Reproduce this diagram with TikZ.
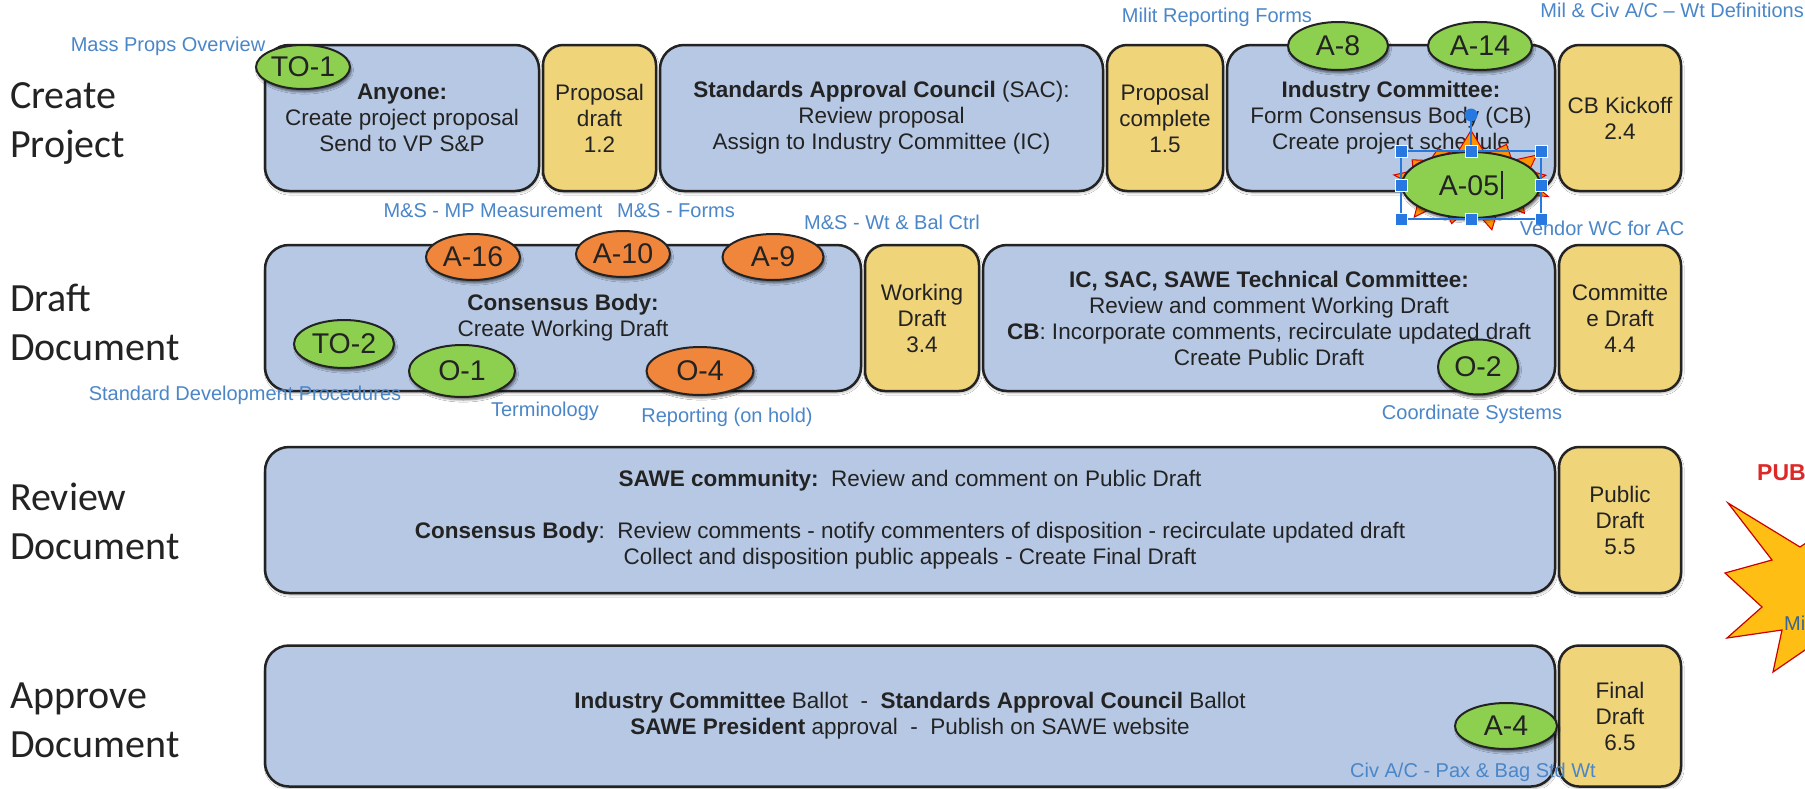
\documentclass[tikz,border=0pt]{standalone}
\usepackage{fontspec}
\setmainfont{Liberation Sans}
\newfontfamily\rowfont{Carlito}
\usepackage[dvipsnames,rgb]{xcolor}
\usepackage{tikz}
\usetikzlibrary{positioning,shapes.geometric,shapes.symbols,shadows.blur}

\definecolor{boxblue}{RGB}{182,200,228}
\definecolor{boxyellow}{RGB}{240,212,122}
\definecolor{taggreen}{RGB}{141,208,80}
\definecolor{tagorange}{RGB}{240,134,60}
\definecolor{notecol}{RGB}{74,134,200}
\definecolor{inkcol}{RGB}{35,35,35}
\definecolor{selblue}{RGB}{40,120,225}
\definecolor{burstyellow}{RGB}{255,190,20}
\definecolor{pubred}{RGB}{222,40,40}

\newcommand\caretbar{\kern2pt\rule[-4pt]{2pt}{28pt}}

\begin{document}
\begin{tikzpicture}[x=1pt,y=-1pt,
    phasebox/.style={draw=inkcol, line width=2.5pt, rounded corners=24pt,
        fill=boxblue, align=center, inner sep=0pt, outer sep=0pt,
        text=inkcol, font=\fontsize{22.5}{26}\selectfont, minimum height=146pt,
        blur shadow={shadow xshift=1pt, shadow yshift=-2pt, shadow opacity=30}},
    draftbox/.style={phasebox, fill=boxyellow, rounded corners=20pt, minimum width=122pt},
    tag/.style={ellipse, draw=inkcol, line width=2pt, inner sep=0pt, text=inkcol,
        font=\fontsize{28.5}{30}\selectfont,
        blur shadow={shadow xshift=1.5pt, shadow yshift=-3pt, shadow opacity=55}},
    greentag/.style={tag, fill=taggreen},
    orangetag/.style={tag, fill=tagorange},
    note/.style={text=notecol, inner sep=0pt, font=\fontsize{20}{22}\selectfont},
    rowlabel/.style={anchor=west, align=left, inner sep=0pt, text=inkcol,
        font=\rowfont\fontsize{40}{49}\selectfont},
    handle/.style={rectangle, fill=selblue, draw=white, line width=0.8pt,
        minimum size=12pt, inner sep=0pt},
    selframe/.style={draw=selblue, line width=1.2pt}]

    \fill[white] (0,0) rectangle (1805,788);
    \useasboundingbox (0,0) rectangle (1805,788);

    \node[rowlabel] (lcreate) at (10,123) {Create\\Project};
    \node[rowlabel] (ldraft) at (10,322) {Draft\\Document};
    \node[rowlabel] (lreview) at (10,521) {Review\\Document};
    \node[rowlabel] (lapprove) at (10,720) {Approve\\Document};

    \node[phasebox, minimum width=274pt] (anyone) at (402,118)
        {\textbf{Anyone:}\\Create project proposal\\Send to VP S\&P};
    \node[draftbox, right=4pt of anyone, minimum width=113pt] (propdraft) {Proposal\\draft\\1.2};
    \node[phasebox, right=4pt of propdraft, minimum width=443pt] (sac)
        {\textbf{Standards Approval Council} (SAC):\\Review proposal\\Assign to Industry Committee (IC)};
    \node[draftbox, right=4pt of sac, minimum width=116pt] (propdone) {Proposal\\complete\\1.5};
    \node[phasebox, right=4pt of propdone, minimum width=328pt] (indcomm)
        {\textbf{Industry Committee:}\\Form Consensus Body (CB)\\Create project schedule};
    \node[draftbox, right=4pt of indcomm] (kickoff) {CB Kickoff\\2.4};

    \node[phasebox, minimum width=596pt] (consbody) at (563,318)
        {\textbf{Consensus Body:}\\Create Working Draft};
    \node[draftbox, right=4pt of consbody, minimum width=114pt] (workdraft) {Working\\Draft\\3.4};
    \node[phasebox, right=4pt of workdraft, minimum width=572pt] (techcomm)
        {\textbf{IC, SAC, SAWE Technical Committee:}\\Review and comment Working Draft\\
         \textbf{CB}: Incorporate comments, recirculate updated draft\\Create Public Draft};
    \node[draftbox, right=4pt of techcomm] (commdraft) {Committe\\e Draft\\4.4};

    \node[phasebox, minimum width=1290pt] (review) at (910,520)
        {\textbf{SAWE community:}~~Review and comment on Public Draft\\[26pt]
         \textbf{Consensus Body}:~~Review comments - notify commenters of disposition - recirculate updated draft\\
         Collect and disposition public appeals - Create Final Draft};
    \node[draftbox, right=4pt of review] (pubdraft) {Public\\Draft\\5.5};

    \node[phasebox, minimum width=1290pt, minimum height=141pt] (approve) at (910,716)
        {\textbf{Industry Committee} Ballot~~-~~\textbf{Standards Approval Council} Ballot\\
         \textbf{SAWE President} approval~~-~~Publish on SAWE website};
    \node[draftbox, right=4pt of approve, minimum height=141pt] (finaldraft) {Final\\Draft\\6.5};

    \node[starburst, starburst points=13, starburst point height=26pt, random starburst=7,
        fill=orange!85!yellow, draw=red!85!black, line width=1pt,
        minimum width=176pt, minimum height=104pt] (a05burst) at (1471,180) {};

    \node[greentag, minimum width=94pt, minimum height=44pt] (to1) at (303,67) {TO-1};
    \node[greentag, minimum width=100pt, minimum height=48pt] (a8) at (1338,46) {A-8};
    \node[greentag, minimum width=104pt, minimum height=48pt] (a14) at (1480,46) {A-14};
    \node[greentag, minimum width=138pt, minimum height=66pt] (a05) at (1471,185) {A-05\caretbar};
    \node[orangetag, minimum width=94pt, minimum height=46pt] (a16) at (473,257) {A-16};
    \node[orangetag, minimum width=94pt, minimum height=46pt] (a10) at (623,254) {A-10};
    \node[orangetag, minimum width=101pt, minimum height=46pt] (a9) at (773,257) {A-9};
    \node[greentag, minimum width=100pt, minimum height=48pt] (to2) at (344,344) {TO-2};
    \node[greentag, minimum width=106pt, minimum height=52pt] (o1) at (462,371) {O-1};
    \node[orangetag, minimum width=107pt, minimum height=48pt] (o4) at (700,371) {O-4};
    \node[greentag, minimum width=80pt, minimum height=55pt] (o2) at (1478,367) {O-2};
    \node[greentag, minimum width=102pt, minimum height=46pt] (a4) at (1506,726) {A-4};

    \draw[selframe] (a05.west |- a05.north) rectangle (a05.east |- a05.south);
    \draw[selframe] (a05.north) -- ++(0,-36) node[circle, fill=selblue, minimum size=13pt, inner sep=0pt] (rotknob) {};
    \foreach \p [count=\i] in {a05.west |- a05.north, a05.north, a05.east |- a05.north,
        a05.west, a05.east, a05.west |- a05.south, a05.south, a05.east |- a05.south}
        \node[handle] (h\i) at (\p) {};

    \node[note] (nmass) at (168,46) {Mass Props Overview};
    \node[note] (nmilit) at (1217,17) {Milit Reporting Forms};
    \node[note, anchor=east] (nmilciv) at (1804,10) {Mil \& Civ A/C -- Wt Definitions};
    \node[note] (nmpmeas) at (493,211) {M\&S - MP Measurement};
    \node[note] (nforms) at (676,211) {M\&S - Forms};
    \node[note] (nwtbal) at (892,222) {M\&S - Wt \& Bal Ctrl};
    \node[note] (nvendor) at (1602,228) {Vendor WC for AC};
    \node[note] (nstddev) at (245,395) {Standard Development Procedures};
    \node[note] (nterm) at (545,411) {Terminology};
    \node[note] (nreport) at (727,417) {Reporting (on hold)};
    \node[note] (ncoord) at (1472,414) {Coordinate Systems};
    \node[note] (ncivac) at (1473,772) {Civ A/C - Pax \& Bag Std Wt};

    \begin{scope}
        \clip (0,0) rectangle (1805,788);
        \draw[fill=burstyellow, draw=red!80!black, line width=1.2pt]
            (1800,547) -- (1728,503) -- (1772,560) -- (1725,573) -- (1762,607)
            -- (1727,638) -- (1782,630) -- (1773,672) -- (1805,650) -- (1840,650)
            -- (1840,520) -- cycle;
        \node[anchor=west, text=pubred, inner sep=0pt, font=\bfseries\fontsize{23}{25}\selectfont]
            (pub) at (1757,473) {PUB};
        \node[note, anchor=west, text=notecol!75!black] (nmi) at (1784,623) {Mi};
    \end{scope}
\end{tikzpicture}
\end{document}
